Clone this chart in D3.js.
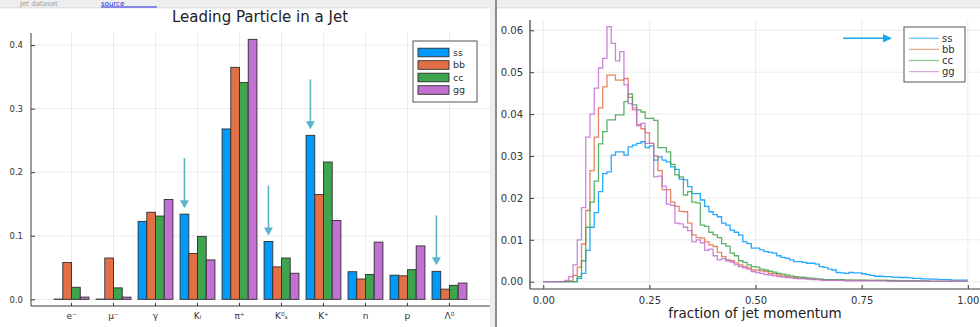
<!DOCTYPE html>
<html><head><meta charset="utf-8">
<script src="https://cdn.jsdelivr.net/npm/d3@7"></script>
<style>
html,body{margin:0;padding:0;background:#fff;}
svg{display:block;font-family:"DejaVu Sans",sans-serif;}
</style></head><body>
<svg id="fig" width="980" height="327"></svg>
<script>
// ---- leading particle shares per jet flavour ----
const particles = ["e⁻","μ⁻","γ","Kₗ","π⁺","K⁰ₛ","K⁺","n","p","Λ⁰"];
const seriesNames = ["ss","bb","cc","gg"];
const seriesColors = ["#009afa","#e36f47","#3ea44e","#c271d2"];
const ssShare = [0.0004,0.0004,0.1226,0.134,0.268,0.091,0.258,0.0434,0.038,0.044];
const bbShare = [0.058,0.065,0.137,0.072,0.365,0.051,0.165,0.032,0.037,0.016];
const ccShare = [0.019,0.018,0.131,0.099,0.341,0.065,0.216,0.039,0.0466,0.022];
const ggShare = [0.0035,0.0035,0.157,0.062,0.409,0.041,0.124,0.090,0.084,0.0256];
const markedParticles = ["Kₗ","K⁰ₛ","K⁺","Λ⁰"];
const barTicks = [0,0.1,0.2,0.3,0.4];
const barTickLabels = ["0.0","0.1","0.2","0.3","0.4"];

// ---- momentum fraction of the leading particle (100 bins on [0,1]) ----
const binWidth = 0.01;
const ssHist = [
 0,0,0,0,0,0,0,0,.0008,.002,
 .0075,.013,.0165,.0215,.0258,.0262,.0302,.0310,.0310,.0302,
 .0322,.0326,.0330,.0334,.0320,.0324,.0290,.0298,.0290,.0286,
 .0274,.0268,.0245,.0243,.0227,.0210,.0210,.0195,.0180,.0167,
 .0160,.0155,.0140,.0135,.0123,.0118,.0111,.0095,.0091,.0080,
 .0080,.0076,.0072,.0070,.0068,.0062,.0058,.0056,.0052,.0048,
 .0048,.0046,.0044,.0044,.0042,.0036,.0034,.0030,.0028,.0022,
 .0021,.0020,.0022,.0021,.0021,.0019,.0017,.0015,.0013,.0013,
 .0012,.0012,.0011,.0011,.0010,.0010,.0009,.0008,.0008,.0007,
 .0007,.0006,.0006,.0005,.0005,.0005,.0004,.0004,.0004,.0004];
const bbHist = [
 0,0,0,0,0,0,.0002,.0015,.0035,.009,
 .0170,.0265,.0345,.0415,.0465,.0493,.0493,.0481,.0481,.0485,
 .0440,.0410,.0375,.0365,.0355,.0330,.0300,.0265,.0220,.0220,
 .0190,.0180,.0168,.0167,.0140,.0112,.0105,.0104,.0095,.0088,
 .0084,.0070,.0060,.0052,.0050,.0045,.0040,.0036,.0033,.0028,
 .0028,.0026,.0024,.0020,.0019,.0016,.0014,.0012,.0011,.0010,
 .0009,.0008,.0007,.0006,.0006,.0005,.0004,.0004,.0004,.0004,
 .0004,.0004,.0004,.0003,.0003,.0003,.0003,.0003,.0003,.0003,
 .0003,.0002,.0002,.0002,.0002,.0002,.0002,.0002,.0002,.0002,
 .0001,.0001,.0001,.0001,.0001,.0001,.0001,.0001,.0001,.0001];
const ccHist = [
 0,0,0,0,0,0,0,0,.0012,.005,
 .013,.019,.024,.0329,.0358,.0386,.0386,.0398,.0398,.0430,
 .0448,.0422,.0410,.0405,.0390,.0390,.0385,.0320,.0320,.0310,
 .0280,.0255,.0250,.0207,.0215,.0190,.0188,.0135,.0132,.0118,
 .0112,.0105,.0091,.0085,.0068,.0062,.0050,.0046,.0040,.0036,
 .0035,.0030,.0028,.0025,.0023,.0020,.0018,.0016,.0014,.0012,
 .0011,.0010,.0009,.0008,.0007,.0006,.0005,.0005,.0005,.0005,
 .0005,.0004,.0004,.0004,.0004,.0004,.0003,.0003,.0003,.0003,
 .0003,.0003,.0003,.0002,.0002,.0002,.0002,.0002,.0002,.0002,
 .0002,.0001,.0001,.0001,.0001,.0001,.0001,.0001,.0001,.0001];
const ggHist = [
 0,0,0,0,0,.0003,.0012,.004,.010,.0177,
 .0345,.040,.0462,.0510,.0533,.0609,.0569,.0527,.0549,.0470,
 .0425,.0415,.0372,.0378,.0330,.0330,.0250,.0252,.0228,.0185,
 .0182,.0140,.0138,.0130,.0122,.0095,.0100,.0093,.0075,.0078,
 .0062,.0052,.0055,.0050,.0047,.0040,.0036,.0033,.0030,.0024,
 .0022,.0020,.0017,.0016,.0014,.0012,.0011,.0010,.0009,.0008,
 .0007,.0007,.0006,.0005,.0005,.0004,.0003,.0003,.0003,.0003,
 .0003,.0002,.0002,.0002,.0002,.0002,.0002,.0002,.0002,.0002,
 .0002,.0001,.0001,.0001,.0001,.0001,.0001,.0001,.0001,.0001,
 .0001,.0001,.0001,.0001,.0001,.0001,.0001,.0001,.0001,.0001];
const histYTicks = [0,0.01,0.02,0.03,0.04,0.05,0.06];
const histYTickLabels = ["0.00","0.01","0.02","0.03","0.04","0.05","0.06"];
const histXTicks = [0,0.25,0.5,0.75,1];
const histXTickLabels = ["0.00","0.25","0.50","0.75","1.00"];

const svg = d3.select("#fig");
const gridColor = "#ebebeb", axisColor = "#3c3c3c", textColor = "#333";

// ---- page chrome: top strip and panel divider ----
svg.append("rect").attr("x",0).attr("y",0).attr("width",980).attr("height",8).attr("fill","#eeeeee");
svg.append("rect").attr("x",0).attr("y",7).attr("width",980).attr("height",1.5).attr("fill","#e2e2e2");
svg.append("text").attr("x",20).attr("y",6).attr("font-size",7).attr("fill","#a0a0a0").text("Jet dataset");
svg.append("text").attr("x",101).attr("y",6).attr("font-size",7).attr("fill","#2a2ae0").text("source");
svg.append("line").attr("x1",101).attr("x2",157).attr("y1",7).attr("y2",7).attr("stroke","#2a2ae0").attr("stroke-width",1.2);
svg.append("rect").attr("x",490).attr("y",0).attr("width",5).attr("height",327).attr("fill","#ececec");
svg.append("rect").attr("x",495).attr("y",0).attr("width",2).attr("height",327).attr("fill","#8c8c8c");

// ================= left: grouped bars =================
const L = {x0:31, x1:490, y0:33, y1:306};
const xBand = d3.scaleBand().domain(particles).range([L.x0, L.x1]).paddingInner(0.17).paddingOuter(0.55);
const xSub = d3.scaleBand().domain(seriesNames).range([0, xBand.bandwidth()]);
const yBar = d3.scaleLinear().domain([-0.0105, 0.419]).range([L.y1, L.y0]);
const barSeries = [ssShare, bbShare, ccShare, ggShare];

const lg = svg.append("g");
// grid
lg.selectAll(".vg").data(particles).join("line")
  .attr("x1",d=>xBand(d)+xBand.bandwidth()/2).attr("x2",d=>xBand(d)+xBand.bandwidth()/2)
  .attr("y1",L.y0).attr("y2",L.y1).attr("stroke",gridColor).attr("stroke-width",1);
lg.selectAll(".hg").data(barTicks).join("line")
  .attr("x1",L.x0).attr("x2",L.x1).attr("y1",d=>yBar(d)).attr("y2",d=>yBar(d))
  .attr("stroke",gridColor).attr("stroke-width",1);

// bars
barSeries.forEach((vals, s) => {
  lg.append("g").selectAll("rect").data(vals).join("rect")
    .attr("x",(d,i)=>xBand(particles[i])+xSub(seriesNames[s]))
    .attr("width",xSub.bandwidth())
    .attr("y",d=>yBar(d))
    .attr("height",d=>yBar(0)-yBar(d))
    .attr("fill",seriesColors[s])
    .attr("stroke","#2e2e2e").attr("stroke-width",0.9);
});

// arrows pointing at the strange-jet bars
const arrowColor = "#5ab4cf";
markedParticles.forEach(p => {
  const i = particles.indexOf(p);
  const cx = xBand(p) + xSub("ss") + xSub.bandwidth()/2;
  const tip = yBar(ssShare[i]) - 6;
  lg.append("line").attr("x1",cx).attr("x2",cx).attr("y1",tip-50).attr("y2",tip-6)
    .attr("stroke",arrowColor).attr("stroke-width",1.6);
  lg.append("path").attr("d",`M${cx-4.5},${tip-8}L${cx+4.5},${tip-8}L${cx},${tip}Z`).attr("fill",arrowColor);
});

// axes
const yAxisL = d3.axisLeft(yBar).tickValues(barTicks).tickFormat((d,i)=>barTickLabels[i]).tickSize(-4).tickPadding(8);
const gyl = lg.append("g").attr("transform",`translate(${L.x0},0)`).call(yAxisL);
gyl.select(".domain").attr("d",`M0,${L.y0}V${L.y1}`).attr("stroke",axisColor);
gyl.selectAll(".tick line").attr("stroke",axisColor);
gyl.selectAll("text").attr("font-size",8.5).attr("fill",textColor).attr("font-family","DejaVu Sans");
const xAxisL = d3.axisBottom(xBand).tickSize(-3).tickPadding(7);
const gxl = lg.append("g").attr("transform",`translate(0,${L.y1})`).call(xAxisL);
gxl.select(".domain").attr("d",`M${L.x0},0H${L.x1}`).attr("stroke",axisColor);
gxl.selectAll(".tick line").attr("stroke",axisColor);
gxl.selectAll("text").attr("font-size",9).attr("fill",textColor).attr("font-family","DejaVu Sans");

// title
lg.append("text").attr("x",260).attr("y",22).attr("text-anchor","middle").attr("font-size",15)
  .attr("fill","#222").text("Leading Particle in a Jet");

// legend
const legL = lg.append("g");
legL.append("rect").attr("x",413).attr("y",41).attr("width",64).attr("height",61)
  .attr("fill","#fff").attr("stroke","#555").attr("stroke-width",1);
seriesNames.forEach((n,s) => {
  const yc = 52.5 + s*12.5;
  legL.append("rect").attr("x",418).attr("y",yc-4.3).attr("width",31).attr("height",8.6)
    .attr("fill",seriesColors[s]).attr("stroke","#2e2e2e").attr("stroke-width",0.9);
  legL.append("text").attr("x",453).attr("y",yc+3.2).attr("font-size",9.5).attr("fill",textColor).text(n);
});

// ================= right: step histograms =================
const R = {x0:530, x1:980, y0:20, y1:289};
const xH = d3.scaleLinear().domain([-0.0313, 1.0287]).range([R.x0, R.x1]);
const yH = d3.scaleLinear().domain([-0.00174, 0.06246]).range([R.y1, R.y0]);
const rg = svg.append("g");
svg.append("clipPath").attr("id","histClip").append("rect")
  .attr("x",R.x0).attr("y",R.y0).attr("width",R.x1-R.x0).attr("height",R.y1-R.y0);

rg.selectAll(".vg").data(histXTicks).join("line")
  .attr("x1",d=>xH(d)).attr("x2",d=>xH(d)).attr("y1",R.y0).attr("y2",R.y1)
  .attr("stroke",gridColor).attr("stroke-width",1);
rg.selectAll(".hg").data(histYTicks).join("line")
  .attr("x1",R.x0).attr("x2",R.x1).attr("y1",d=>yH(d)).attr("y2",d=>yH(d))
  .attr("stroke",gridColor).attr("stroke-width",1);

const stepLine = d3.line().x(d=>xH(d[0])).y(d=>yH(d[1])).curve(d3.curveStepAfter);
const hists = [ssHist, bbHist, ccHist, ggHist];
const lines = rg.append("g").attr("clip-path","url(#histClip)");
hists.forEach((h,s) => {
  const pts = h.map((v,i)=>[i*binWidth, v]);
  pts.push([h.length*binWidth, h[h.length-1]]);
  lines.append("path").attr("d",stepLine(pts)).attr("fill","none")
    .attr("stroke",seriesColors[s]).attr("stroke-width",1.3).attr("stroke-opacity",0.85);
});

const yAxisR = d3.axisLeft(yH).tickValues(histYTicks).tickFormat((d,i)=>histYTickLabels[i]).tickSize(-4).tickPadding(7);
const gyr = rg.append("g").attr("transform",`translate(${R.x0},0)`).call(yAxisR);
gyr.select(".domain").attr("d",`M0,${R.y0}V${R.y1}`).attr("stroke",axisColor).attr("stroke-width",1.2);
gyr.selectAll(".tick line").attr("stroke",axisColor);
gyr.selectAll("text").attr("font-size",10).attr("fill",textColor).attr("font-family","DejaVu Sans");
const xAxisR = d3.axisBottom(xH).tickValues(histXTicks).tickFormat((d,i)=>histXTickLabels[i]).tickSize(-4).tickPadding(8);
const gxr = rg.append("g").attr("transform",`translate(0,${R.y1})`).call(xAxisR);
gxr.select(".domain").attr("d",`M${R.x0},0H${R.x1}`).attr("stroke",axisColor).attr("stroke-width",1.2);
gxr.selectAll(".tick line").attr("stroke",axisColor);
gxr.selectAll("text").attr("font-size",10).attr("fill",textColor).attr("font-family","DejaVu Sans");

rg.append("text").attr("x",755).attr("y",318).attr("text-anchor","middle").attr("font-size",13.5)
  .attr("fill","#222").text("fraction of jet momentum");

// legend
const legR = rg.append("g");
legR.append("rect").attr("x",904).attr("y",27).attr("width",61).attr("height",55)
  .attr("fill","#fff").attr("stroke","#555").attr("stroke-width",1);
seriesNames.forEach((n,s) => {
  const yc = 38.3 + s*11.1;
  legR.append("line").attr("x1",909).attr("x2",939).attr("y1",yc).attr("y2",yc)
    .attr("stroke",seriesColors[s]).attr("stroke-width",1.3).attr("stroke-opacity",0.6);
  legR.append("text").attr("x",942).attr("y",yc+3.5).attr("font-size",10).attr("fill",textColor).text(n);
});

// arrow pointing at the strange-jet entry
const arrowR = "#1ba8ea";
rg.append("line").attr("x1",843).attr("x2",884).attr("y1",38.3).attr("y2",38.3)
  .attr("stroke",arrowR).attr("stroke-width",1.6);
rg.append("path").attr("d","M883,34L892,38.3L883,42.6Z").attr("fill",arrowR);
</script>
</body></html>
